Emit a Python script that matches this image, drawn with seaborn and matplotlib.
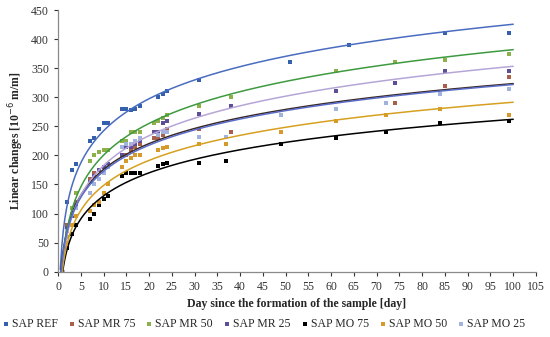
import numpy as np
import pandas as pd
import matplotlib
matplotlib.use("Agg")
import matplotlib.pyplot as plt
import seaborn as sns

# values (day, linear change)
ref_days = [1, 2, 3, 4, 7, 8, 9, 10, 11, 14, 15, 16, 17, 18, 22, 23, 24, 31, 51, 64, 85, 99]
ref_vals = [0, 120, 175, 185, 225, 230, 245, 255, 255, 280, 280, 278, 280, 285, 300, 305, 310, 330, 360, 390, 410, 410]

mr_days = [1, 2, 3, 4, 7, 8, 9, 10, 11, 14, 15, 16, 17, 18, 21, 22, 23, 24, 31, 38, 61, 74, 85, 99]
mr75_vals = [0, 80, 100, 120, 160, 170, 175, 180, 180, 200, 200, 210, 215, 220, 230, 230, 235, 245, 245, 240, 260, 290, 320, 335]
mr50_vals = [0, 60, 110, 135, 190, 200, 205, 210, 210, 225, 225, 240, 240, 240, 255, 260, 265, 270, 285, 300, 345, 360, 365, 375]
mr25_vals = [0, 75, 95, 115, 155, 165, 175, 180, 185, 200, 215, 215, 220, 225, 240, 240, 255, 260, 271, 285, 311, 325, 345, 345]

mo_days = [1, 2, 3, 4, 7, 8, 9, 10, 11, 14, 15, 16, 17, 18, 22, 23, 24, 31, 37, 49, 61, 72, 84, 99]
mo75_vals = [0, 40, 65, 80, 90, 100, 115, 125, 130, 165, 170, 170, 170, 170, 182, 185, 187, 187, 190, 220, 230, 240, 255, 260]
mo50_vals = [0, 50, 80, 95, 105, 115, 120, 135, 150, 180, 190, 195, 200, 200, 210, 212, 215, 219, 219, 240, 259, 270, 280, 270]
mo25_vals = [0, 70, 100, 110, 135, 150, 160, 170, 180, 215, 220, 220, 225, 230, 235, 240, 240, 231, 231, 270, 280, 290, 305, 314]

series = ["SAP REF", "SAP MR 75", "SAP MR 50", "SAP MR 25", "SAP MO 75", "SAP MO 50", "SAP MO 25"]
days = [ref_days, mr_days, mr_days, mr_days, mo_days, mo_days, mo_days]
vals = [ref_vals, mr75_vals, mr50_vals, mr25_vals, mo75_vals, mo50_vals, mo25_vals]
marker_colors = ["#3560AC", "#A8604A", "#8CB04A", "#5E4E98", "#000000", "#D69A2C", "#A2B2DE"]
line_colors = ["#4A6CC0", "#3A2A24", "#3E9A40", "#B6A6D8", "#000000", "#D6A020", "#5A6CC8"]

sns.set_style("ticks")
plt.rcParams["font.family"] = ["Liberation Serif", "DejaVu Serif"]

fig, ax = plt.subplots(figsize=(5.5, 3.37), dpi=100)
fig.subplots_adjust(left=0.1055, right=0.9745, top=0.97, bottom=0.194)

grid = np.linspace(0.5, 100, 300)
for name, d, v, mc, lc in zip(series, days, vals, marker_colors, line_colors):
    d = np.array(d, dtype=float)
    v = np.array(v, dtype=float)
    # logarithmic trend line, as in the spreadsheet chart
    b, a = np.polyfit(np.log(d), v, 1)
    sns.lineplot(x=grid, y=a + b * np.log(grid), color=lc, lw=1.1, ax=ax, legend=False)
    sns.scatterplot(x=d, y=v, color=mc, marker="s", s=9, linewidth=0, ax=ax, label=name)

ax.set_xlim(0, 105)
ax.set_ylim(0, 450)
ax.set_xticks(np.arange(0, 106, 5))
ax.set_yticks(np.arange(0, 451, 50))
ax.tick_params(labelsize=8.5, colors="#333333", length=3, width=0.8)
for s in ["left", "bottom"]:
    ax.spines[s].set_color("#8a8a8a")
    ax.spines[s].set_linewidth(0.9)
sns.despine(ax=ax)
ax.set_xlabel("Day since the formation of the sample [day]", fontsize=8.5, fontweight="bold", labelpad=4)
ax.set_ylabel("Linear changes [10$^{-6}$ m/m]", fontsize=8.5, fontweight="bold", labelpad=4)

handles, labels = ax.get_legend_handles_labels()
ax.legend_.remove()
fig.legend(handles, labels, loc="center", bbox_to_anchor=(0.478, 0.038), ncol=7, frameon=False,
           fontsize=8.5, handletextpad=0.05, columnspacing=0.75, handlelength=0.9,
           markerscale=0.8, borderaxespad=0, borderpad=0)

fig.savefig("out.png", dpi=100)
